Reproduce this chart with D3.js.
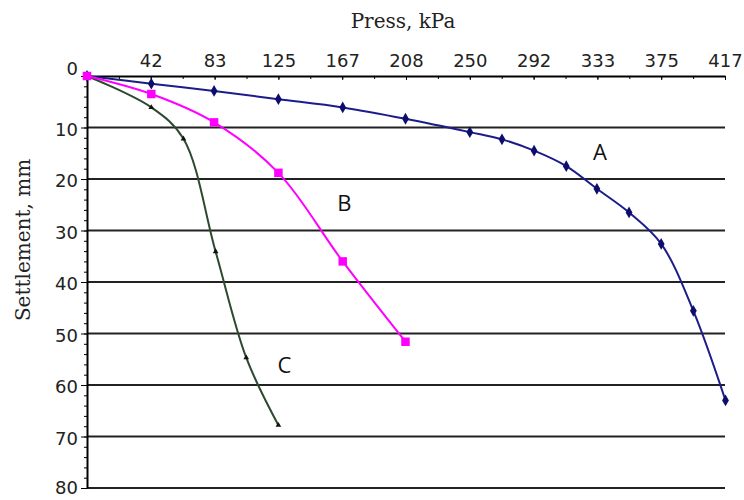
<!DOCTYPE html>
<html>
<head>
<meta charset="UTF-8">
<title>Settlement vs press</title>
<script src="https://d3js.org/d3.v7.min.js"></script>
<style>
    body { margin: 0; background: #fff; }
    svg { display: block; }
</style>
</head>
<body>
<div id="graph"></div>
<script>
    var pressA  = [0, 42, 83, 125, 167, 208, 250, 271, 292, 313, 333, 354, 375, 396, 417];
    var settleA = [0, 1.5, 2.9, 4.5, 6.1, 8.3, 10.9, 12.3, 14.5, 17.5, 21.9, 26.5, 32.6, 45.6, 63];
    var pressB  = [0, 42, 83, 125, 167, 208];
    var settleB = [0, 3.5, 9, 18.8, 36, 51.6];
    var pressC  = [0, 42, 63, 84, 104, 125];
    var settleC = [0, 6.1, 12.2, 34.1, 54.7, 67.8];

    var xTickValues = [41.667, 83.333, 125, 166.667, 208.333, 250, 291.667, 333.333, 375, 416.667];
    var xTickLabels = ["42", "83", "125", "167", "208", "250", "292", "333", "375", "417"];
    var yTickValues = [0, 10, 20, 30, 40, 50, 60, 70, 80];

    var curveNames = ["A", "B", "C"];
    var namePress  = [335, 168, 129];
    var nameSettle = [14.8, 24.7, 56.1];

    var width = 744, height = 500;

    var svg = d3.select("#graph").append("svg")
        .attr("width", width)
        .attr("height", height);

    svg.append("rect").attr("width", width).attr("height", height).attr("fill", "#fff");

    var x = d3.scaleLinear().domain([0, 416.667]).range([87, 725]);
    var y = d3.scaleLinear().domain([0, 80]).range([76, 488]);

    // horizontal grid lines
    svg.append("g").selectAll("line")
        .data(yTickValues.slice(1))
        .enter().append("line")
        .attr("x1", x(0)).attr("x2", x(416.667))
        .attr("y1", function (d) { return y(d); })
        .attr("y2", function (d) { return y(d); })
        .attr("stroke", "#222")
        .attr("stroke-width", 2);

    // top axis
    var minorX = d3.range(0, 21).map(function (i) { return i * 416.667 / 20; });
    svg.append("g")
        .attr("transform", "translate(0," + y(0) + ")")
        .call(d3.axisTop(x).tickValues(minorX).tickSizeInner(-3).tickSizeOuter(0).tickFormat(""))
        .call(function (g) { g.select(".domain").remove(); });

    var xAxis = svg.append("g")
        .attr("transform", "translate(0," + y(0) + ")")
        .call(d3.axisTop(x)
            .tickValues(xTickValues)
            .tickSizeInner(-4).tickSizeOuter(0).tickPadding(9)
            .tickFormat(function (d, i) { return xTickLabels[i]; }));
    xAxis.select(".domain").attr("stroke-width", 2);
    xAxis.selectAll("text")
        .attr("font-family", "DejaVu Sans")
        .attr("font-size", "18px")
        .attr("fill", "#222");

    // left axis
    svg.append("g")
        .attr("transform", "translate(" + x(0) + ",0)")
        .call(d3.axisLeft(y).tickValues(d3.range(0, 81, 2)).tickSizeInner(3).tickSizeOuter(0).tickFormat(""))
        .call(function (g) { g.select(".domain").remove(); });

    var yAxis = svg.append("g")
        .attr("transform", "translate(" + x(0) + ",0)")
        .call(d3.axisLeft(y)
            .tickValues(yTickValues)
            .tickSizeInner(6).tickSizeOuter(0).tickPadding(3));
    yAxis.select(".domain").attr("stroke-width", 2);
    yAxis.selectAll("text")
        .attr("font-family", "DejaVu Sans")
        .attr("font-size", "18px")
        .attr("fill", "#222")
        .attr("dy", function (d) { return d === 0 ? "-0.1em" : (d === 80 ? "0.3em" : "0.42em"); });

    // titles
    svg.append("text")
        .attr("x", 403).attr("y", 28)
        .attr("text-anchor", "middle")
        .attr("font-family", "DejaVu Serif")
        .attr("font-size", "20px")
        .attr("fill", "#222")
        .text("Press, kPa");

    svg.append("text")
        .attr("transform", "translate(30,240) rotate(-90)")
        .attr("text-anchor", "middle")
        .attr("font-family", "DejaVu Serif")
        .attr("font-size", "20px")
        .attr("fill", "#222")
        .text("Settlement, mm");

    var line = d3.line()
        .x(function (d) { return x(d[0]); })
        .y(function (d) { return y(d[1]); })
        .curve(d3.curveCatmullRom.alpha(0.5));

    function drawCurve(press, settle, color, symbol, size, markColor) {
        var pts = d3.zip(press, settle);
        svg.append("path")
            .datum(pts)
            .attr("d", line)
            .attr("fill", "none")
            .attr("stroke", color)
            .attr("stroke-width", 2);
        svg.append("g").selectAll("path")
            .data(pts)
            .enter().append("path")
            .attr("transform", function (d) { return "translate(" + x(d[0]) + "," + y(d[1]) + ")"; })
            .attr("d", d3.symbol().type(symbol).size(size))
            .attr("fill", markColor);
    }

    drawCurve(pressA, settleA, "#1c1c8a", d3.symbolDiamond, 40, "#0d0d6e");
    drawCurve(pressC, settleC, "#2e4a2e", d3.symbolTriangle, 14, "#111");
    drawCurve(pressB, settleB, "#ff00ff", d3.symbolSquare, 72, "#ff00ff");

    // curve names
    svg.append("g").selectAll("text")
        .data(curveNames)
        .enter().append("text")
        .attr("x", function (d, i) { return x(namePress[i]); })
        .attr("y", function (d, i) { return y(nameSettle[i]); })
        .attr("dy", "0.35em")
        .attr("text-anchor", "middle")
        .attr("font-family", "Open Sans")
        .attr("font-size", "22px")
        .attr("fill", "#111")
        .text(function (d) { return d; });
</script>
</body>
</html>
